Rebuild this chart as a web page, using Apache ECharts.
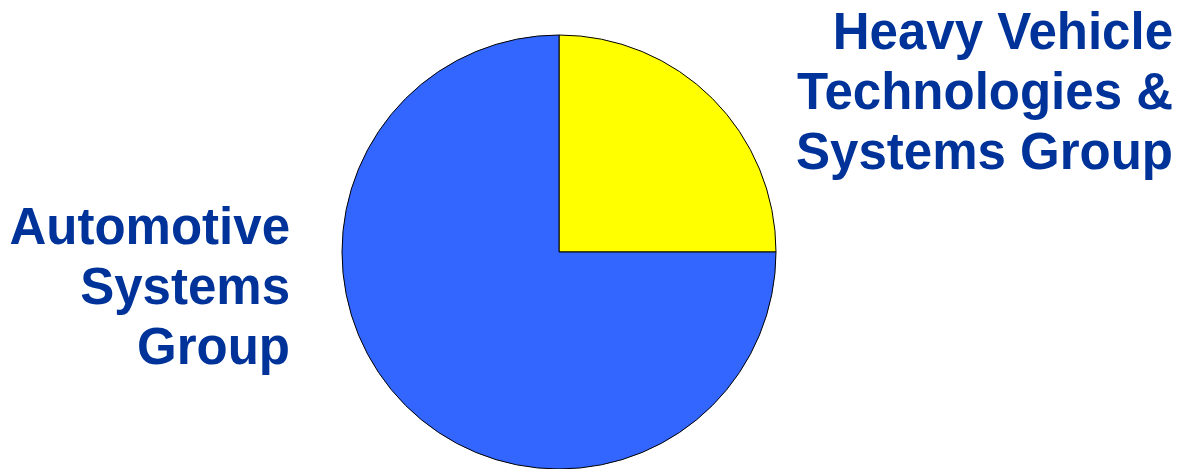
<!DOCTYPE html>
<html>
<head>
<meta charset="utf-8">
<script src="https://cdn.jsdelivr.net/npm/echarts@6/dist/echarts.min.js"></script>
<style>
  html, body { margin: 0; padding: 0; background: #ffffff; }
  #chart { width: 1186px; height: 469px; }
</style>
</head>
<body>
<div id="chart"></div>
<script>
// Business groups and their shares (percent)
const categories = [
  'Heavy Vehicle\nTechnologies &\nSystems Group',
  'Automotive\nSystems\nGroup'
];
const shares = [25, 75];
const sliceColors = ['#ffff00', '#3366ff'];

const chart = echarts.init(document.getElementById('chart'), null, { renderer: 'canvas' });

const labelFont = 'bold 51px "Liberation Sans", Arial, sans-serif';

chart.setOption({
  backgroundColor: '#ffffff',
  animation: false,
  series: [{
    type: 'pie',
    center: [559, 252],
    radius: 217,
    startAngle: 90,
    clockwise: true,
    label: { show: false },
    labelLine: { show: false },
    emphasis: { disabled: true },
    itemStyle: { borderColor: '#000000', borderWidth: 1 },
    data: categories.map((name, i) => ({
      name: name,
      value: shares[i],
      itemStyle: { color: sliceColors[i] }
    }))
  }],
  graphic: [
    {
      type: 'text',
      x: 1173,
      y: 5,
      style: {
        text: categories[0],
        font: labelFont,
        fill: '#003399',
        align: 'right',
        verticalAlign: 'top',
        lineHeight: 60
      }
    },
    {
      type: 'text',
      x: 290,
      y: 200,
      style: {
        text: categories[1],
        font: labelFont,
        fill: '#003399',
        align: 'right',
        verticalAlign: 'top',
        lineHeight: 60
      }
    }
  ]
});
</script>
</body>
</html>
